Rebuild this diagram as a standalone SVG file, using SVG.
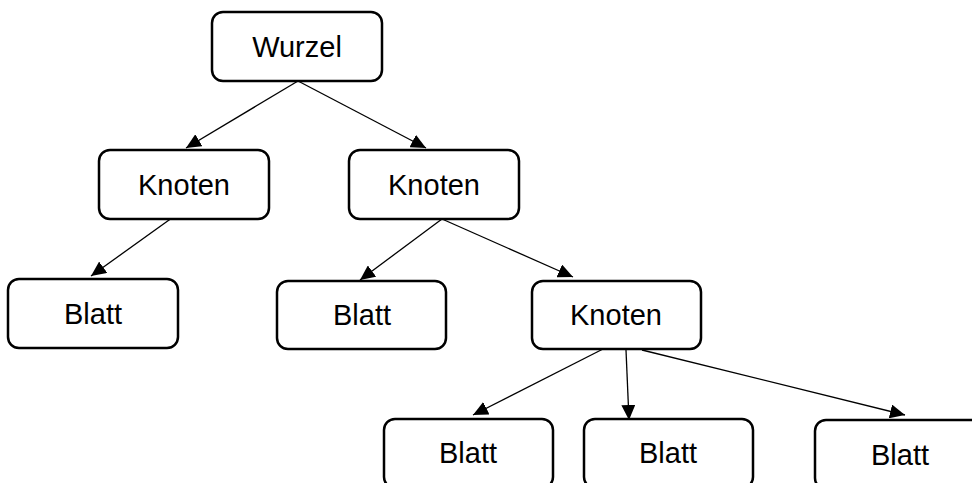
<svg xmlns="http://www.w3.org/2000/svg" width="972" height="483" viewBox="0 0 972 483">
<style>
.box{fill:#fff;stroke:#000;stroke-width:2.5}
.lbl{font-family:"Liberation Sans",Arial,sans-serif;font-size:29px;text-anchor:middle;fill:#000}
.edge{stroke:#000;stroke-width:1.3;fill:none;marker-end:url(#arr)}
</style>
<defs>
<marker id="arr" viewBox="0 0 15 14" refX="15" refY="7" markerWidth="15" markerHeight="14" markerUnits="userSpaceOnUse" orient="auto">
<path d="M0,0 L15,7 L0,14 z" fill="#000"/>
</marker>
</defs>
<rect width="972" height="483" fill="#fff"/>
<g id="connectors">
<line class="edge" x1="298" y1="81" x2="186" y2="148"/>
<line class="edge" x1="298" y1="81" x2="426" y2="148"/>
<line class="edge" x1="176" y1="215" x2="91" y2="276"/>
<line class="edge" x1="442" y1="219" x2="360" y2="280"/>
<line class="edge" x1="442" y1="219" x2="573" y2="277"/>
<line class="edge" x1="603" y1="349" x2="473" y2="415"/>
<line class="edge" x1="626" y1="350" x2="629" y2="420"/>
<line class="edge" x1="642" y1="350" x2="905" y2="415"/>
</g>
<g id="wurzel"><rect class="box" x="212" y="12" width="170" height="69" rx="11"/><text class="lbl" x="297" y="57">Wurzel</text></g>
<g id="knoten1"><rect class="box" x="99" y="150" width="170" height="69" rx="11"/><text class="lbl" x="184" y="195">Knoten</text></g>
<g id="knoten2"><rect class="box" x="349" y="150" width="170" height="69" rx="11"/><text class="lbl" x="434" y="195">Knoten</text></g>
<g id="blatt1"><rect class="box" x="8" y="279" width="170" height="69" rx="11"/><text class="lbl" x="93" y="324">Blatt</text></g>
<g id="blatt2"><rect class="box" x="277" y="281" width="169" height="68" rx="11"/><text class="lbl" x="362" y="325">Blatt</text></g>
<g id="knoten3"><rect class="box" x="532" y="281" width="169" height="68" rx="11"/><text class="lbl" x="616" y="325">Knoten</text></g>
<g id="blatt3"><rect class="box" x="384" y="419" width="169" height="69" rx="11"/><text class="lbl" x="468" y="463">Blatt</text></g>
<g id="blatt4"><rect class="box" x="584" y="419" width="169" height="69" rx="11"/><text class="lbl" x="668" y="463">Blatt</text></g>
<g id="blatt5"><rect class="box" x="815" y="420" width="170" height="69" rx="11"/><text class="lbl" x="900" y="465">Blatt</text></g>
</svg>
